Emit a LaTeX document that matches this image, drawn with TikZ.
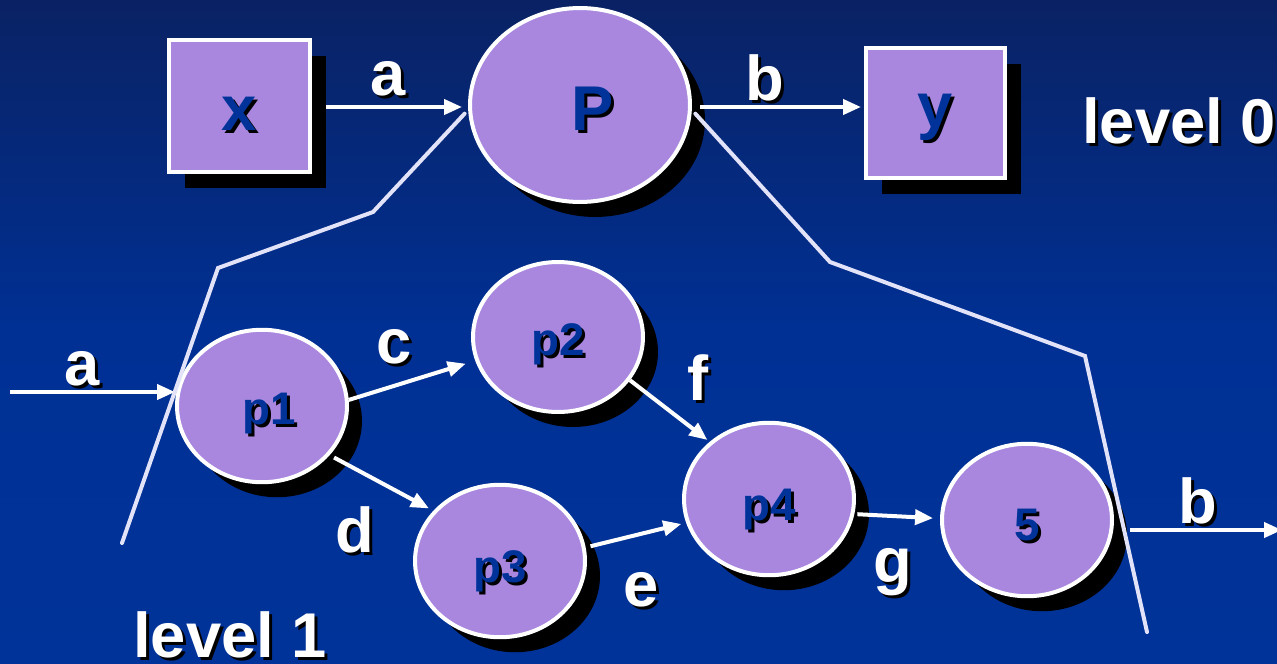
\documentclass[tikz,border=0pt]{standalone}
\usepackage{fontspec}
\setmainfont{Liberation Sans}
\usetikzlibrary{shapes.geometric,shadows,arrows.meta}
\definecolor{bgtop}{RGB}{10,34,100}
\definecolor{bgmid}{RGB}{0,48,148}
\definecolor{bgbot}{RGB}{0,51,153}
\definecolor{lilac}{RGB}{169,135,223}
\definecolor{ink}{RGB}{0,51,153}
\definecolor{pale}{RGB}{226,226,248}
\newcommand\shd[2]{\makebox[0pt][l]{\hspace{0.06cm}\raisebox{-0.06cm}{\color{black}#2}}{\color{#1}#2}}
\newcommand\biglab[1]{\bfseries\shd{white}{#1}}
\newcommand\inlab[1]{\bfseries\shd{ink}{#1}}
\tikzset{
  proc/.style={ellipse, draw=white, line width=0.08cm, fill=lilac, inner sep=0pt,
    minimum width=3.4cm, minimum height=3.05cm, text height=0.72cm, text depth=0cm,
    general shadow={fill=black, shadow xshift=0.3cm, shadow yshift=-0.3cm},
    font=\fontsize{26pt}{30pt}\selectfont},
  term/.style={rectangle, draw=white, line width=0.08cm, fill=lilac, inner sep=0pt,
    general shadow={fill=black, shadow xshift=0.32cm, shadow yshift=-0.32cm},
    font=\fontsize{36pt}{40pt}\selectfont},
  arr/.style={draw=white, line width=0.08cm, -{Triangle[length=0.36cm,width=0.3cm]}},
  cut/.style={draw=pale, line width=0.08cm, line cap=round, line join=miter},
  lab/.style={inner sep=0pt, anchor=base, font=\fontsize{36pt}{40pt}\selectfont}
}
\begin{document}
\begin{tikzpicture}[x=0.02cm,y=-0.02cm]
\fill[top color=bgtop, bottom color=bgbot, middle color=bgmid] (0,0) rectangle (1277,663);
\useasboundingbox (0,0) rectangle (1277,663);
% level 0
\node[term, minimum width=2.82cm, minimum height=2.64cm, text height=1.0cm, text depth=0cm] (x) at (239.5,106) {\inlab{x}};
\node[proc, minimum width=4.4cm, minimum height=3.88cm, text height=1.02cm, font=\fontsize{36pt}{40pt}\selectfont] (P) at (580,105) {\hspace{0.5cm}\inlab{P}};
\node[term, minimum width=2.78cm, minimum height=2.6cm, text height=0.59cm, text depth=0cm] (y) at (935.5,113) {\inlab{y}};
\node[lab] (la) at (388,95) {\biglab{a}};
\node[lab] (lb) at (765,100) {\biglab{b}};
\node[lab, anchor=base west] (lev0) at (1082,143) {\biglab{level 0}};
\draw[arr, shorten <=0.28cm, shorten >=0.12cm] (x.east |- 0,107) -- (P.west |- 0,107);
\draw[arr, shorten <=0.16cm, shorten >=0.06cm] (P.east |- 0,107) -- (y.west |- 0,107);
% level 1
\node[proc] (p1) at (262,406) {\hspace{0.3cm}\inlab{p1}};
\node[proc, minimum height=3.0cm] (p2) at (558,337) {\inlab{p2}};
\node[proc, text height=0.86cm] (p3) at (500,561) {\inlab{p3}};
\node[proc, text height=0.84cm] (p4) at (769,499) {\inlab{p4}};
\node[proc, text height=0.8cm] (five) at (1027,520) {\inlab{5}\hspace{0.4cm}};
\coordinate (in) at (10,392);
\coordinate (out) at (1277,530);
\node[lab] (la1) at (82,385) {\biglab{a}};
\node[lab] (lc) at (394,363) {\biglab{c}};
\node[lab] (ld) at (355,552) {\biglab{d}};
\node[lab] (lf) at (698,400) {\biglab{f}};
\node[lab] (le) at (641,606) {\biglab{e}};
\node[lab] (lg) at (893,582) {\biglab{g}};
\node[lab] (lb1) at (1198,523) {\biglab{b}};
\node[lab, anchor=base west] (lev1) at (133,657) {\biglab{level 1}};
\draw[arr] (in) -- (in -| p1.west);
\draw[arr, shorten >=0.2cm] (p1.4) -- (p2.196);
\draw[arr, shorten <=0.1cm, shorten >=0.1cm] (p1.-36) -- (p3.143);
\draw[arr, shorten >=0.06cm] (p2.-31) -- (p4.136);
\draw[arr, shorten <=0.1cm, shorten >=0.1cm] (p3.9) -- (p4.196);
\draw[arr, shorten <=0.06cm, shorten >=0.14cm] (p4.-10) -- (five.179);
\draw[arr, shorten <=0.32cm, shorten >=-0.1cm] (five.east |- out) -- (out);
% boundary lines
\coordinate (l0) at (122,543);
\coordinate (l1) at (218,268);
\coordinate (l2) at (373,212);
\coordinate (r1) at (830,262);
\coordinate (r2) at (1085,356);
\coordinate (r3) at (1147,632);
\draw[cut, shorten >=0.1cm] (l0) -- (l1) -- (l2) -- (P.west |- 0,110);
\draw[cut, shorten <=0.1cm] (P.east |- 0,110) -- (r1) -- (r2) -- (r3);
\end{tikzpicture}
\end{document}
